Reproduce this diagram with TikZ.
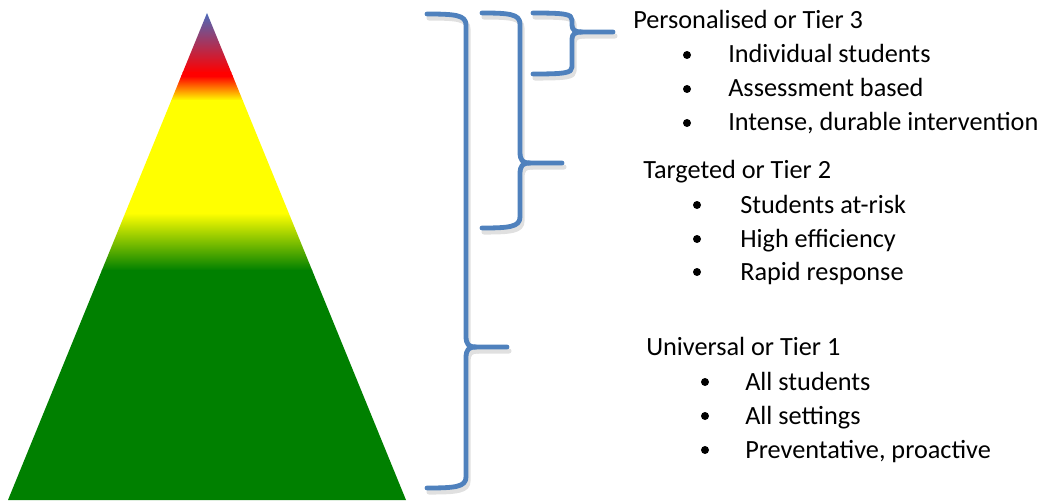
\documentclass[tikz,border=0pt]{standalone}
\usepackage{fontspec}
\setmainfont{Carlito}
\definecolor{braceblue}{RGB}{79,129,189}
\definecolor{apexblue}{RGB}{72,108,190}
\definecolor{pred}{RGB}{255,0,0}
\definecolor{pyellow}{RGB}{255,255,0}
\definecolor{pgreen}{RGB}{0,128,0}
\newcommand\mybrace[8]{% #1 style, #2 xl, #3 xv, #4 yt, #5 ym, #6 yb, #7 xt, #8 r
  \draw[#1] (#2,#4) .. controls ({#3-#8},#4) and (#3,{#4+1}) .. (#3,{#4+#8})
    -- (#3,{#5-#8}) .. controls (#3,{#5-2}) and ({#3+3},#5) .. ({#3+10},#5) -- (#7,#5);
  \draw[#1] ({#3+10},#5) .. controls ({#3+3},#5) and (#3,{#5+2}) .. (#3,{#5+#8})
    -- (#3,{#6-#8}) .. controls (#3,{#6-1}) and ({#3-#8},#6) .. (#2,#6);
}
\begin{document}
\begin{tikzpicture}[x=0.75pt,y=-0.75pt,
  brace/.style={draw=braceblue, line width=3.6pt, line cap=round, line join=round},
  bshadow/.style={draw=black!12, line width=3.8pt, line cap=round, line join=round},
  head/.style={anchor=base west, inner sep=0pt, font=\fontsize{19.7pt}{24pt}\selectfont},
  item/.style={anchor=base west, inner sep=0pt, font=\fontsize{19.7pt}{24pt}\selectfont},
  dot/.style={fill=black}]
\useasboundingbox (0,0) rectangle (1047,503);

% pyramid
\coordinate (apex) at (207,13);
\coordinate (bl) at (8,500);
\coordinate (br) at (406,500);
\begin{scope}
  \clip (apex) -- (br) -- (bl) -- cycle;
  \shade[top color=apexblue, bottom color=pred] (0,12) rectangle (420,72.5);
  \fill[pred] (0,72) rectangle (420,76.5);
  \shade[top color=pred, bottom color=pyellow] (0,76) rectangle (420,100.5);
  \fill[pyellow] (0,100) rectangle (420,213.5);
  \shade[top color=pyellow, bottom color=pgreen] (0,213) rectangle (420,270.5);
  \fill[pgreen] (0,270) rectangle (420,502);
\end{scope}

% braces (shadow then brace)
\begin{scope}[shift={(2,4)}]
  \mybrace{bshadow}{427}{466}{14}{347}{488}{507}{11}
  \mybrace{bshadow}{482}{520}{13}{163}{228}{562}{11}
  \mybrace{bshadow}{533}{572}{13}{32}{74}{613}{7}
\end{scope}
\mybrace{brace}{427}{466}{14}{347}{488}{507}{11}
\mybrace{brace}{482}{520}{13}{163}{228}{562}{11}
\mybrace{brace}{533}{572}{13}{32}{74}{613}{7}

% Tier 3
\node[head] (t3) at (633,29) {Personalised or Tier 3};
\fill[dot] (687,55) circle (4);
\node[item] (t3a) at (728,63) {Individual students};
\fill[dot] (687,89) circle (4);
\node[item] (t3b) at (728,97) {Assessment based};
\fill[dot] (687,123) circle (4);
\node[item] (t3c) at (728,131) {Intense, durable intervention};

% Tier 2
\node[head] (t2) at (643,178) {Targeted or Tier 2};
\fill[dot] (697,205) circle (4);
\node[item] (t2a) at (740,213) {Students at-risk};
\fill[dot] (697,239) circle (4);
\node[item] (t2b) at (740,247) {High efficiency};
\fill[dot] (697,272) circle (4);
\node[item] (t2c) at (740,280) {Rapid response};

% Tier 1
\node[head] (t1) at (646,355) {Universal or Tier 1};
\fill[dot] (705,382) circle (4);
\node[item] (t1a) at (745,390) {All students};
\fill[dot] (705,416) circle (4);
\node[item] (t1b) at (745,424) {All settings};
\fill[dot] (705,450) circle (4);
\node[item] (t1c) at (745,458) {Preventative, proactive};
\end{tikzpicture}
\end{document}
